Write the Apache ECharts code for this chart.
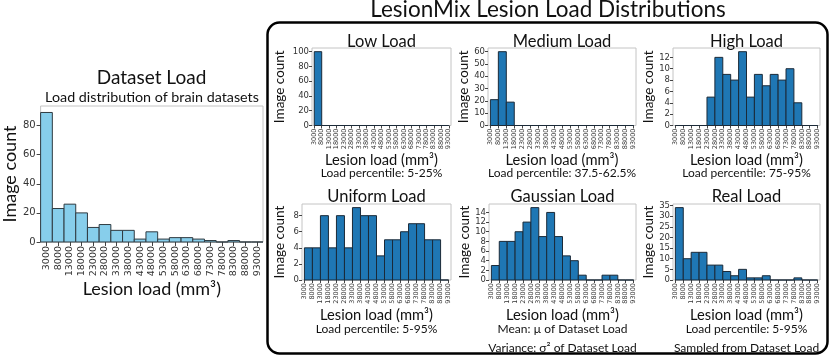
<!DOCTYPE html>
<html>
<head>
<meta charset="utf-8">
<script src="https://cdn.jsdelivr.net/npm/echarts@6/dist/echarts.min.js"></script>
<style>
  html, body { margin: 0; padding: 0; background: #fff; }
  #main { width: 830px; height: 356px; }
</style>
</head>
<body>
<div id="main"></div>
<script>
// tick labels / bin starts (mm^3)
var binStarts = [3000, 8000, 13000, 18000, 23000, 28000, 33000, 38000, 43000, 48000,
                 53000, 58000, 63000, 68000, 73000, 78000, 83000, 88000, 93000];
var binWidth = 5000;

// image counts per bin
var datasetLoad  = [89, 23, 26, 20, 10, 12, 8, 8, 2, 7, 2, 3, 3, 2, 1, 0, 1, 0, 0];
var lowLoad      = [100, 0, 0, 0, 0, 0, 0, 0, 0, 0, 0, 0, 0, 0, 0, 0, 0, 0];
var mediumLoad   = [21, 60, 19, 0, 0, 0, 0, 0, 0, 0, 0, 0, 0, 0, 0, 0, 0, 0];
var highLoad     = [0, 0, 0, 0, 5, 12, 9, 8, 13, 5, 9, 7, 9, 8, 10, 4, 0, 0];
var uniformLoad  = [4, 4, 8, 4, 8, 4, 9, 8, 8, 3, 5, 5, 6, 7, 7, 5, 5, 0];
var gaussianLoad = [3, 8, 8, 10, 12, 15, 9, 14, 9, 5, 4, 1, 0, 0, 1, 1, 0, 0];
var realLoad     = [34, 10, 13, 13, 7, 7, 4, 2, 5, 1, 1, 2, 0, 0, 0, 1, 0, 0];

// y tick labels
var datasetTicks  = [0, 20, 40, 60, 80];
var lowTicks      = [0, 20, 40, 60, 80, 100];
var mediumTicks   = [0, 10, 20, 30, 40, 50, 60];
var highTicks     = [0, 2, 4, 6, 8, 10, 12];
var uniformTicks  = [0, 2, 4, 6, 8];
var gaussianTicks = [0, 2, 4, 6, 8, 10, 12, 14];
var realTicks     = [0, 5, 10, 15, 20, 25, 30, 35];

var headFont = 'Lato';
var tickFont = 'DejaVu Sans';

var chart = echarts.init(document.getElementById('main'));
var grids = [], xAxes = [], yAxes = [], series = [], graphics = [];

function plain(v) { return String(v); }

function histItem(offset, fill, edge) {
  return function (params, api) {
    var x0 = api.value(0) + offset;
    var p0 = api.coord([x0, api.value(1)]);
    var p1 = api.coord([x0 + binWidth, 0]);
    return {
      type: 'rect',
      shape: { x: p0[0], y: p0[1], width: p1[0] - p0[0], height: p1[1] - p0[1] },
      style: { fill: fill, stroke: edge, lineWidth: 1 }
    };
  };
}

function addPanel(p) {
  var i = grids.length;
  grids.push({
    left: p.left, top: p.top, width: p.width, height: p.height,
    show: true, borderColor: '#c4c4c4', borderWidth: 1, backgroundColor: 'transparent'
  });
  xAxes.push({
    gridIndex: i, type: 'value', min: p.xmin, max: p.xmax,
    name: 'Lesion load (mm³)', nameLocation: 'middle', nameGap: p.xGap,
    nameTextStyle: { fontFamily: headFont, fontSize: p.xNameSize, color: '#111' },
    axisLine: { show: false },
    splitLine: { show: false },
    axisTick: { customValues: binStarts, length: p.big ? 4 : 3, lineStyle: { color: '#444' } },
    axisLabel: {
      customValues: binStarts, rotate: 90, margin: p.big ? 4 : 3, formatter: plain,
      fontFamily: tickFont, fontSize: p.xFont, color: '#333'
    }
  });
  yAxes.push({
    gridIndex: i, type: 'value', min: 0, max: p.ymax,
    name: 'Image count', nameLocation: 'middle', nameGap: p.yGap,
    nameTextStyle: { fontFamily: headFont, fontSize: p.yNameSize, color: '#111' },
    axisLine: { show: false },
    splitLine: { show: false },
    axisTick: { customValues: p.yTicks, length: p.big ? 4 : 3, lineStyle: { color: '#444' } },
    axisLabel: {
      customValues: p.yTicks, margin: p.big ? 5 : 3, formatter: plain,
      fontFamily: tickFont, fontSize: p.yFont, color: '#333'
    }
  });
  series.push({
    type: 'custom', xAxisIndex: i, yAxisIndex: i,
    data: p.values.map(function (v, k) { return [binStarts[k], v]; }),
    renderItem: histItem(p.offset, p.fill, p.edge)
  });
  graphics.push({
    type: 'text', x: p.left + p.width / 2, y: p.titleY,
    style: { text: p.title, fontFamily: headFont, fontSize: p.titleSize, fill: '#111',
             align: 'center', verticalAlign: 'middle' }
  });
  (p.notes || []).forEach(function (n, k) {
    graphics.push({
      type: 'text', x: p.left + p.width / 2, y: p.noteY + k * 19,
      style: { text: n, fontFamily: headFont, fontSize: 12, fill: '#111',
               align: 'center', verticalAlign: 'middle' }
    });
  });
}

var smallBase = { xmin: 1500, xmax: 94500, offset: 0, fill: '#1f77b4', edge: '#1b2a38',
                  xFont: 6.5, yFont: 8.5, xNameSize: 14.7, yNameSize: 13.5, titleSize: 16.5,
                  xGap: 23, big: false };

function small(o) { return Object.assign({}, smallBase, o); }

// left panel
addPanel({
  left: 40, top: 106, width: 223, height: 136, xmin: 500, xmax: 95500, offset: -2500,
  fill: '#87ceeb', edge: '#2f3a40', values: datasetLoad, yTicks: datasetTicks, ymax: 93.45,
  xFont: 9.5, yFont: 10, xNameSize: 18, yNameSize: 18, xGap: 36, yGap: 18, big: true,
  title: 'Dataset Load', titleY: 78, titleSize: 19
});
graphics.push({
  type: 'text', x: 152, y: 97,
  style: { text: 'Load distribution of brain datasets', fontFamily: headFont, fontSize: 14.3,
           fill: '#111', align: 'center', verticalAlign: 'middle' }
});

// right six panels
addPanel(small({ left: 312, top: 48, width: 139, height: 77.5, values: lowLoad, yTicks: lowTicks,
  ymax: 105, yGap: 25, title: 'Low Load', titleY: 42, notes: ['Load percentile: 5-25%'], noteY: 173.5 }));
addPanel(small({ left: 488, top: 48, width: 148, height: 77.5, values: mediumLoad, yTicks: mediumTicks,
  ymax: 63, yGap: 16, title: 'Medium Load', titleY: 42, notes: ['Load percentile: 37.5-62.5%'], noteY: 173.5 }));
addPanel(small({ left: 673, top: 48, width: 147, height: 77.5, values: highLoad, yTicks: highTicks,
  ymax: 13.65, yGap: 14.5, title: 'High Load', titleY: 42, notes: ['Load percentile: 75-95%'], noteY: 173.5 }));
addPanel(small({ left: 302, top: 204, width: 149, height: 76, values: uniformLoad, yTicks: uniformTicks,
  ymax: 9.45, yGap: 15, title: 'Uniform Load', titleY: 197, notes: ['Load percentile: 5-95%'], noteY: 329 }));
addPanel(small({ left: 489, top: 204, width: 147, height: 76, values: gaussianLoad, yTicks: gaussianTicks,
  ymax: 15.75, yGap: 17, title: 'Gaussian Load', titleY: 197,
  notes: ['Mean: µ of Dataset Load', 'Variance: σ² of Dataset Load'], noteY: 329 }));
addPanel(small({ left: 673, top: 204, width: 147, height: 76, values: realLoad, yTicks: realTicks,
  ymax: 35.7, yGap: 14.5, title: 'Real Load', titleY: 197,
  notes: ['Load percentile: 5-95%', 'Sampled from Dataset Load'], noteY: 329 }));

// rounded box + main title
graphics.push({
  type: 'rect', shape: { x: 267.5, y: 22.5, width: 560, height: 331, r: 12 },
  style: { fill: 'none', stroke: '#000', lineWidth: 2.5 }, z: -1
});
graphics.push({
  type: 'text', x: 548, y: 10,
  style: { text: 'LesionMix Lesion Load Distributions', fontFamily: headFont, fontSize: 22.5,
           fill: '#111', align: 'center', verticalAlign: 'middle' }
});

chart.setOption({
  animation: false,
  backgroundColor: '#fff',
  grid: grids,
  xAxis: xAxes,
  yAxis: yAxes,
  series: series,
  graphic: graphics
});
</script>
</body>
</html>
